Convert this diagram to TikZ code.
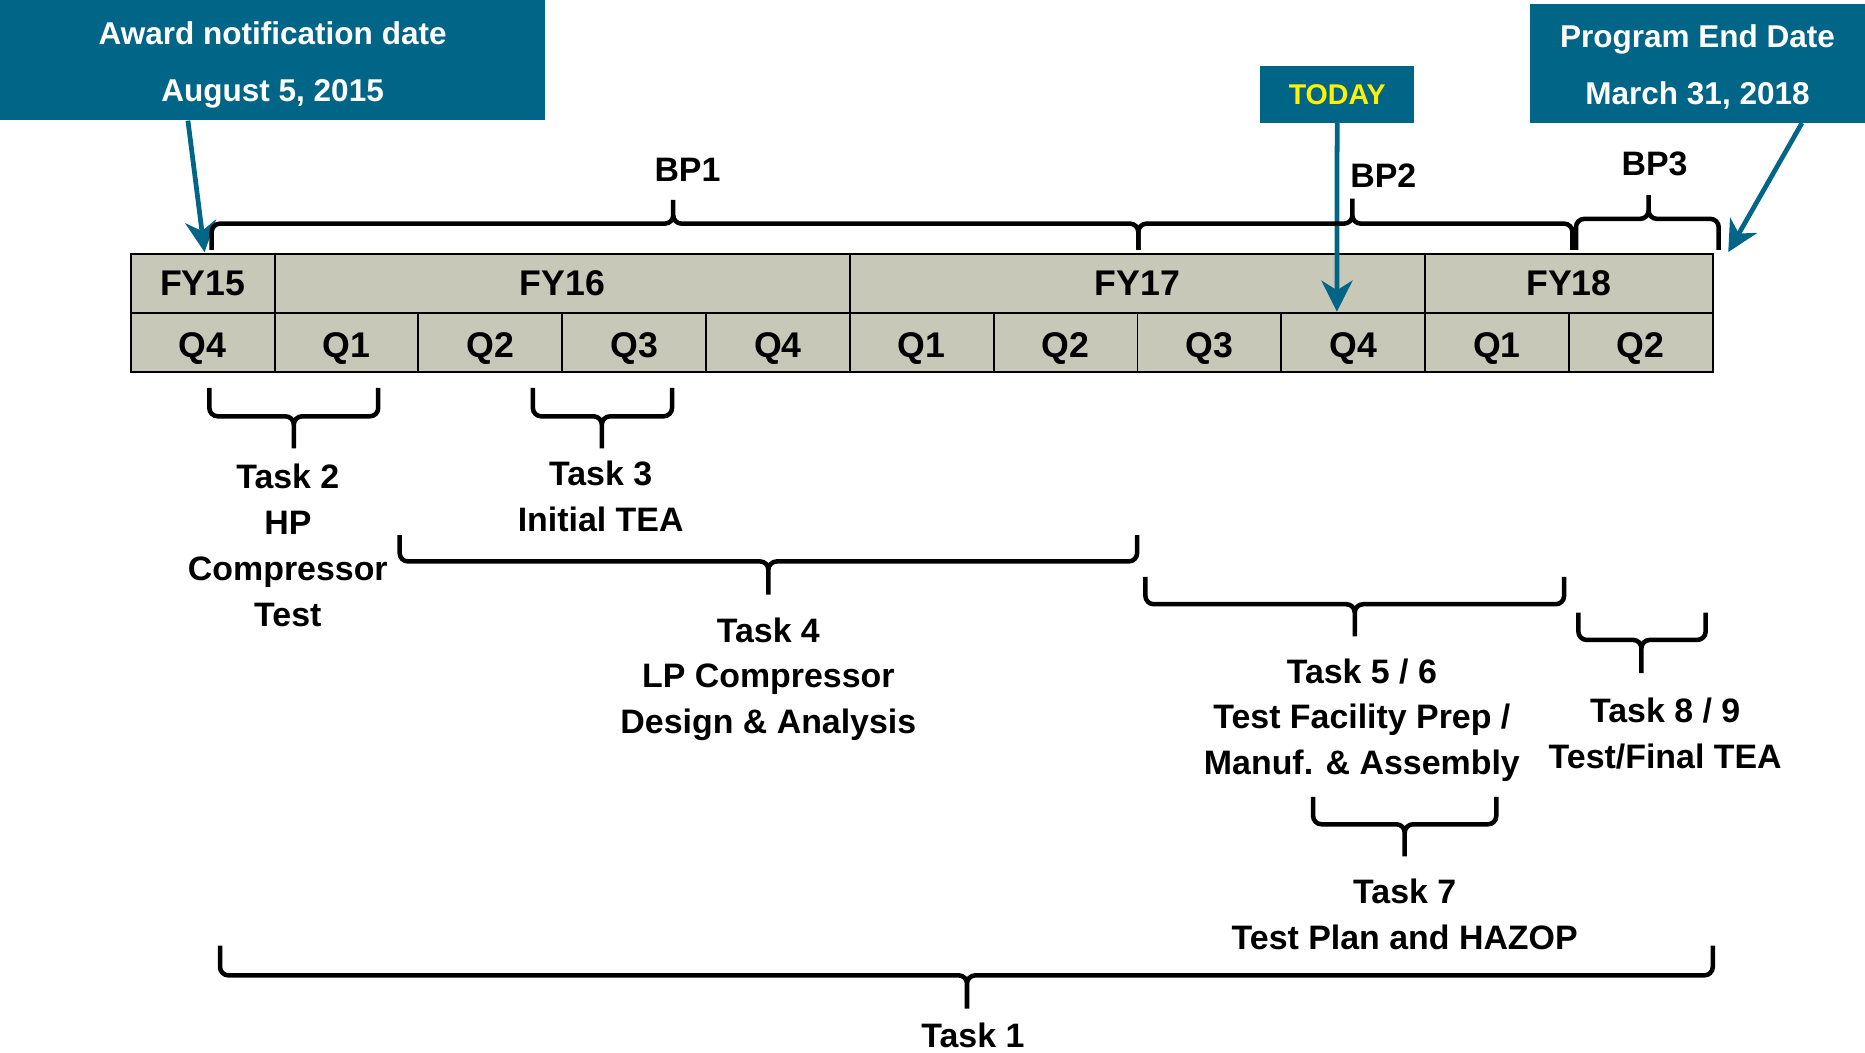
\documentclass[tikz,border=0pt]{standalone}
\usepackage{fontspec}
\setmainfont{Liberation Sans}
\usetikzlibrary{positioning, arrows.meta, calc}
\definecolor{calloutblue}{RGB}{0,101,135}
\definecolor{cellfill}{RGB}{200,200,185}
\tikzset{cell/.style={draw, line width=1.6pt, fill=cellfill, minimum height=49.5pt, inner sep=0pt, outer sep=0pt, font=\fontsize{30}{36}\selectfont\bfseries},
	qcell/.style={cell, minimum width=120.9pt, text height=25.5pt, text depth=0pt},
	callout/.style={fill=calloutblue, text=white, inner sep=0pt, align=center, font=\fontsize{26.5}{48}\selectfont\bfseries},
	pointer/.style={draw=calloutblue, line width=4pt, -{Stealth[length=26pt, width=26pt, inset=8pt]}},
	brace/.style={line width=3.8pt, rounded corners=7pt},
	tasklabel/.style={align=center, font=\fontsize{28.5}{38.5}\selectfont\bfseries},}

\begin{document}
\begin{tikzpicture}[x=1pt, y=-1pt]
	\useasboundingbox (0,0) rectangle (1568,884.5);
	% Quarters
	\node[qcell, anchor=north west] (q0) at (110,263) {Q4};
	\foreach \lab [count=\i, remember=\i as \j (initially 0)] in {Q1,Q2,Q3,Q4,Q1,Q2,Q3,Q4,Q1,Q2}
		\node[qcell, right=0pt of q\j] (q\i) {\lab};
	% Fiscal years
	\node[cell, minimum width=120.9pt, anchor=south west] (fy15) at (q0.north west) {FY15};
	\node[cell, minimum width=483.6pt, anchor=south west] (fy16) at (q1.north west) {FY16};
	\node[cell, minimum width=483.6pt, anchor=south west] (fy17) at (q5.north west) {FY17};
	\node[cell, minimum width=241.8pt, anchor=south west] (fy18) at (q9.north west) {FY18};
	% Callouts
	\node[callout, minimum width=458pt, minimum height=101pt, anchor=north west] (award) at (0,0) {\rule{0pt}{27.3pt}Award notification date\\August 5, 2015};
	\node[callout, minimum width=282pt, minimum height=100pt, anchor=north west] (endbox) at (1286,3) {\rule{0pt}{25.3pt}Program End Date\\March 31, 2018};
	\node[callout, text=yellow, font=\fontsize{24}{28}\selectfont\bfseries, minimum width=130pt, minimum height=48pt, anchor=north west] (today) at (1059,55) {TODAY};
	\coordinate (awardtip) at (172,212);
	\coordinate (todaytip) at (1124,262);
	\coordinate (endtip) at (1453,212);
	\draw[pointer] ([xshift=158pt]award.south west) -- (awardtip);
	\draw[pointer] (today.south) -- (todaytip);
	\draw[pointer] ([xshift=229pt]endbox.south west) -- (endtip);
	% Budget periods
	\draw[brace] (178,210) |- (566,188) -- (566,168) (957,210) |- (566,188) -- (566,168);
	\draw[brace] (957,210) |- (1137,188) -- (1137,167) (1322,210) |- (1137,188) -- (1137,167);
	\draw[brace] (1325,210) |- (1386,184) -- (1386,164) (1445,210) |- (1386,184) -- (1386,164);
	\node[tasklabel] (bp1) at (578,143) {BP1};
	\node[tasklabel] (bp2) at (1163,148) {BP2};
	\node[tasklabel] (bp3) at (1391,138) {BP3};
	% Tasks
	\draw[brace] (176,326) |- (247,350) -- (247,377) (318,326) |- (247,350) -- (247,377);
	\draw[brace] (448,326) |- (506,350) -- (506,377) (565,326) |- (506,350) -- (506,377);
	\draw[brace] (336,450) |- (646,472) -- (646,500) (956,450) |- (646,472) -- (646,500);
	\draw[brace] (963,485) |- (1139,508) -- (1139,535) (1315,485) |- (1139,508) -- (1139,535);
	\draw[brace] (1327,515) |- (1380,538) -- (1380,566) (1434,515) |- (1380,538) -- (1380,566);
	\draw[brace] (1104,670) |- (1181,693) -- (1181,720) (1258,670) |- (1181,693) -- (1181,720);
	\draw[brace] (185,795) |- (813,820) -- (813,848) (1440,795) |- (813,820) -- (813,848);
	\node[tasklabel] (task2) at (242,458.5) {Task 2\\HP\\Compressor\\Test};
	\node[tasklabel] (task3) at (505,417.5) {Task 3\\Initial TEA};
	\node[tasklabel] (task4) at (646,571) {Task 4\\LP Compressor\\Design \& Analysis};
	\node[tasklabel] (task56) at (1145,605.5) {Task 5 / 6\\Test Facility Prep /\\Manuf. \& Assembly};
	\node[tasklabel] (task89) at (1400,617) {Task 8 / 9\\Test/Final TEA};
	\node[tasklabel] (task7) at (1181,769) {Task 7\\Test Plan and HAZOP};
	\node[tasklabel] (task1) at (818,870.5) {Task 1};
\end{tikzpicture}
\end{document}
